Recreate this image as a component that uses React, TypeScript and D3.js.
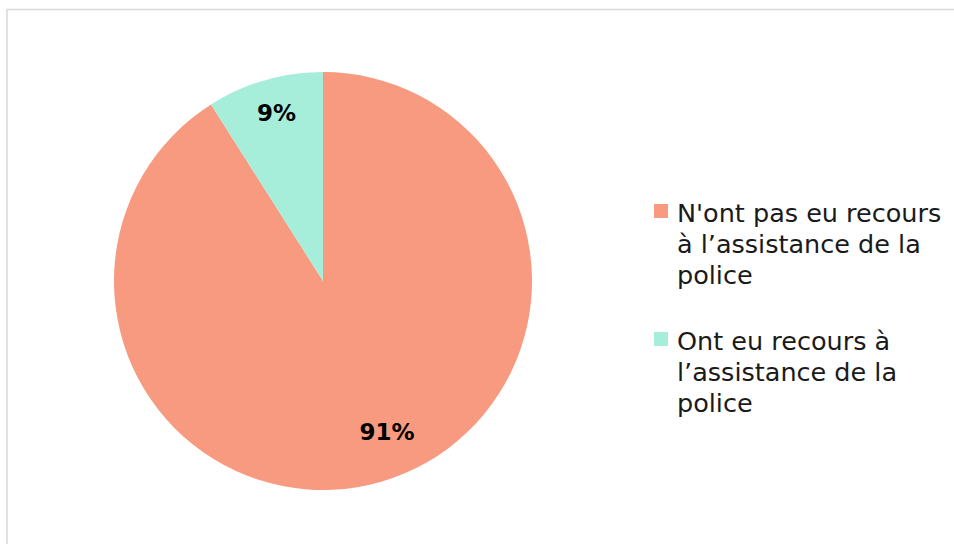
import React from "react";
import * as d3 from "d3";

const categories = [
  "N'ont pas eu recours à l’assistance de la police",
  "Ont eu recours à l’assistance de la police",
];
const values = [91, 9];
const labels = ["91%", "9%"];
const legendLines = [
  ["N'ont pas eu recours", "à l’assistance de la", "police"],
  ["Ont eu recours à", "l’assistance de la", "police"],
];
const colors = ["#F79A7F", "#A6EEDA"];

const W = 954;
const H = 544;
const FONT = "'DejaVu Sans', sans-serif";

export default function App() {
  const cx = 323;
  const cy = 281;
  const r = 209;
  const pie = d3.pie<number>().sort(null).value((d) => d);
  const arcs = pie(values);
  const arc = d3.arc<d3.PieArcDatum<number>>().innerRadius(0).outerRadius(r);
  const labelFactor = [0.785, 0.836];
  const labelAngleShift = [-0.119, 0.014];

  return (
    <svg
      width={W}
      height={H}
      style={{ position: "absolute", left: 0, top: 0, background: "#fff" }}
    >
      <rect x={7} y={9.5} width={W + 10} height={H + 10} fill="#fff" stroke="#d9d9d9" strokeWidth={1.5} />
      <g transform={`translate(${cx},${cy})`}>
        {arcs.map((a, i) => (
          <path key={i} d={arc(a) || ""} fill={colors[i]} />
        ))}
        {arcs.map((a, i) => {
          const mid = (a.startAngle + a.endAngle) / 2 + labelAngleShift[i];
          const d = r * labelFactor[i];
          const x = Math.sin(mid) * d;
          const y = -Math.cos(mid) * d;
          return (
            <text
              key={i}
              x={x}
              y={y}
              textAnchor="middle"
              dominantBaseline="central"
              fontFamily={FONT}
              fontWeight="bold"
              fontSize={23}
              fill="#000"
            >
              {labels[i]}
            </text>
          );
        })}
      </g>
      {legendLines.map((lines, i) => {
        const top = i === 0 ? 204 : 332;
        return (
          <g key={i}>
            <rect x={654} y={top} width={14} height={14} fill={colors[i]} />
            {lines.map((ln, j) => (
              <text
                key={j}
                x={677}
                y={top + 18 + j * 31}
                fontFamily={FONT}
                fontSize={25.5}
                fill="#1a1a1a"
              >
                {ln}
              </text>
            ))}
          </g>
        );
      })}
    </svg>
  );
}
